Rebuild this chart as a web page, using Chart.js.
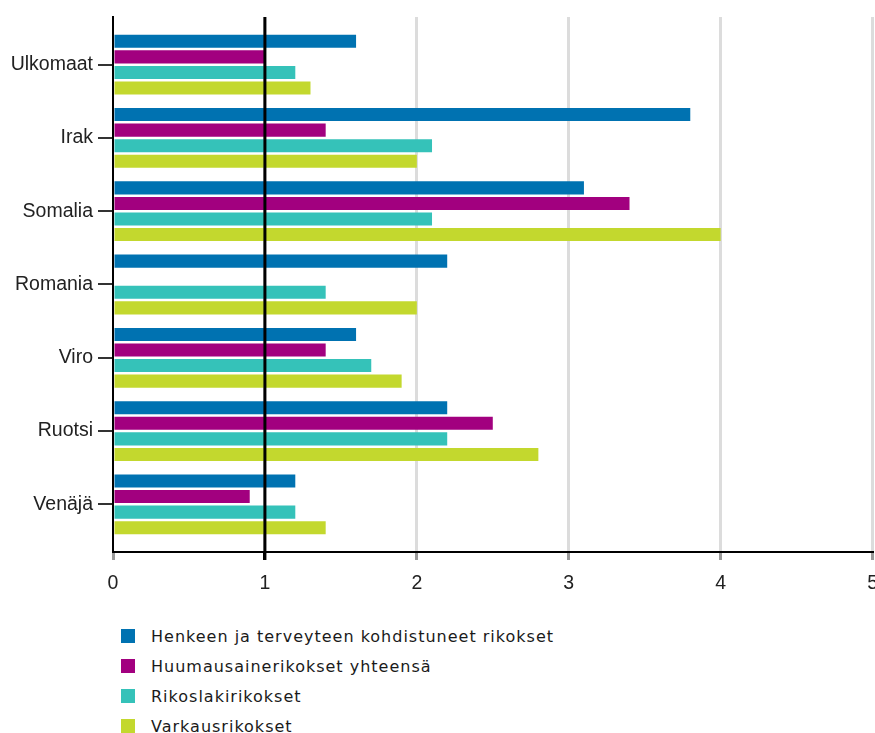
<!DOCTYPE html>
<html lang="fi">
<head>
  <meta charset="UTF-8">
  <title>Rikokset</title>
  <script src="https://cdn.jsdelivr.net/npm/chart.js"></script>
  <style>
    html, body { margin: 0; padding: 0; background: #fff; overflow: hidden; }
    #wrap { position: relative; width: 890px; height: 733px; }
    #chartBox { position: absolute; left: 0; top: 0; width: 890px; height: 600px; }
    #legend { position: absolute; left: 121px; top: 621px; margin: 0; padding: 0; list-style: none;
      font-family: "DejaVu Sans", sans-serif; font-size: 16px; letter-spacing: 1px; color: #1a1a1a; }
    #legend li { height: 30px; display: flex; align-items: center; }
    #legend span.box { display: inline-block; width: 14px; height: 14px; margin-right: 16px; }
  </style>
</head>
<body>
  <div id="wrap">
    <div id="chartBox"><canvas id="chart"></canvas></div>
    <ul id="legend"></ul>
  </div>

  <script>
    const countries = ['Ulkomaat', 'Irak', 'Somalia', 'Romania', 'Viro', 'Ruotsi', 'Venäjä'];
    const seriesNames = [
      'Henkeen ja terveyteen kohdistuneet rikokset',
      'Huumausainerikokset yhteensä',
      'Rikoslakirikokset',
      'Varkausrikokset'
    ];
    const henkeen = [1.6, 3.8, 3.1, 2.2, 1.6, 2.2, 1.2];
    const huumausaine = [1.0, 1.4, 3.4, null, 1.4, 2.5, 0.9];
    const rikoslaki = [1.2, 2.1, 2.1, 1.4, 1.7, 2.2, 1.2];
    const varkaus = [1.3, 2.0, 4.0, 2.0, 1.9, 2.8, 1.4];
    const xTicks = [0, 1, 2, 3, 4, 5];
    const refValue = 1;

    const colors = ['#0072b1', '#a2007f', '#35c2b9', '#c3d82e'];
    const font = { family: '"Liberation Sans", Arial, sans-serif', size: 19.5 };

    // index axis is linear so the plot can have extra room above and below
    const toPoints = arr => arr.map((v, i) => ({ x: v, y: i }));

    const datasets = [henkeen, huumausaine, rikoslaki, varkaus].map((vals, k) => ({
      label: seriesNames[k],
      data: toPoints(vals),
      backgroundColor: colors[k],
      borderWidth: 0,
      categoryPercentage: 0.85,
      barPercentage: 0.84
    }));

    const refLine = {
      id: 'refLine',
      afterDatasetsDraw(chart) {
        const { ctx, chartArea, scales } = chart;
        const x = scales.x.getPixelForValue(refValue);
        ctx.save();
        ctx.strokeStyle = '#000';
        ctx.lineWidth = 3;
        ctx.beginPath();
        ctx.moveTo(x, chartArea.top);
        ctx.lineTo(x, chartArea.bottom + 8);
        ctx.stroke();
        ctx.restore();
      }
    };

    const chart = new Chart(document.getElementById('chart'), {
      type: 'bar',
      data: { datasets },
      plugins: [refLine],
      options: {
        indexAxis: 'y',
        responsive: true,
        maintainAspectRatio: false,
        animation: false,
        layout: { padding: { top: 17, right: 17, left: 0, bottom: 0 } },
        scales: {
          x: {
            type: 'linear',
            min: 0,
            max: 5,
            afterBuildTicks: s => { s.ticks = xTicks.map(v => ({ value: v })); },
            afterFit: s => { s.height = 48; },
            border: { color: '#000', width: 2 },
            grid: {
              color: c => c.tick.value === 0 ? 'rgba(0,0,0,0)' : '#dcdcdc',
              tickColor: c => c.tick.value === refValue ? '#000' : '#9a9a9a',
              lineWidth: 3,
              tickLength: 8
            },
            ticks: { color: '#222', font, padding: 12 }
          },
          y: {
            type: 'linear',
            reverse: true,
            offset: false,
            min: -0.65,
            max: 6.65,
            afterBuildTicks: s => { s.ticks = countries.map((_, i) => ({ value: i })); },
            afterFit: s => { s.width = 113; },
            border: { color: '#000', width: 2 },
            grid: { offset: false, drawOnChartArea: false, tickColor: '#333', tickLength: 15, lineWidth: 2 },
            ticks: { color: '#222', font, padding: 5, callback: v => countries[v] }
          }
        },
        plugins: {
          legend: { display: false },
          tooltip: { enabled: false }
        }
      }
    });

    const legend = document.getElementById('legend');
    chart.data.datasets.forEach(ds => {
      const li = document.createElement('li');
      const box = document.createElement('span');
      box.className = 'box';
      box.style.background = ds.backgroundColor;
      li.appendChild(box);
      li.appendChild(document.createTextNode(ds.label));
      legend.appendChild(li);
    });
  </script>
</body>
</html>
